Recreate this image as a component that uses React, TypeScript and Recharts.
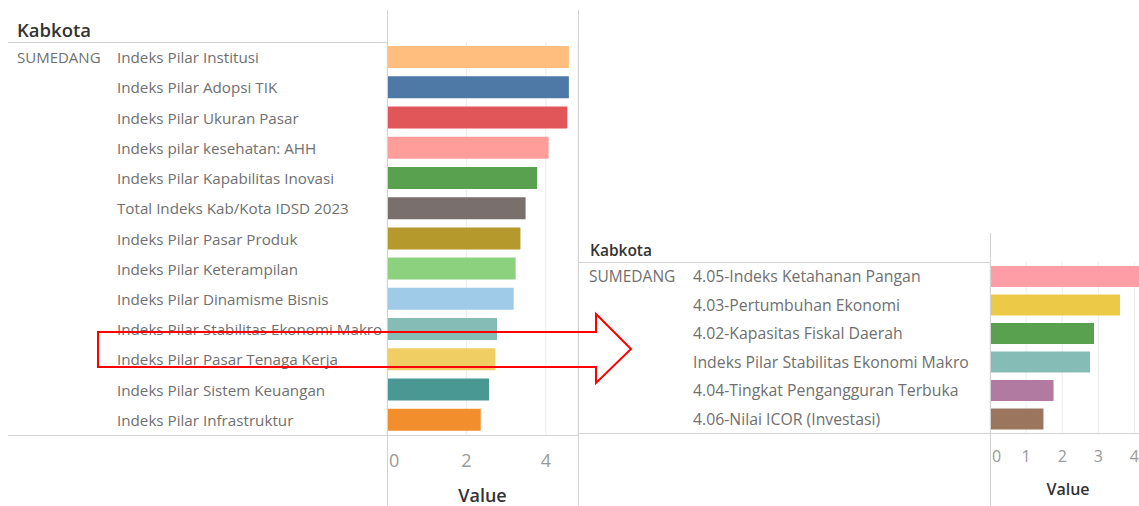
import React from 'react';
import { BarChart, Bar, XAxis, YAxis, CartesianGrid, Cell } from 'recharts';

const FONT = '"Open Sans", "Noto Sans", sans-serif';

const leftCategories = [
  'Indeks Pilar Institusi',
  'Indeks Pilar Adopsi TIK',
  'Indeks Pilar Ukuran Pasar',
  'Indeks pilar kesehatan: AHH',
  'Indeks Pilar Kapabilitas Inovasi',
  'Total Indeks Kab/Kota IDSD 2023',
  'Indeks Pilar Pasar Produk',
  'Indeks Pilar Keterampilan',
  'Indeks Pilar Dinamisme Bisnis',
  'Indeks Pilar Stabilitas Ekonomi Makro',
  'Indeks Pilar Pasar Tenaga Kerja',
  'Indeks Pilar Sistem Keuangan',
  'Indeks Pilar Infrastruktur',
];
const leftValues = [4.58, 4.58, 4.54, 4.07, 3.78, 3.49, 3.36, 3.24, 3.19, 2.77, 2.73, 2.57, 2.36];
const leftColors = [
  '#FFBE7D', '#4E79A7', '#E15759', '#FF9D9A', '#59A14F', '#79706E', '#B6992D',
  '#8CD17D', '#A0CBE8', '#86BCB6', '#F1CE63', '#499894', '#F28E2B',
];
const leftTicks = [0, 2, 4];

const rightCategories = [
  '4.05-Indeks Ketahanan Pangan',
  '4.03-Pertumbuhan Ekonomi',
  '4.02-Kapasitas Fiskal Daerah',
  'Indeks Pilar Stabilitas Ekonomi Makro',
  '4.04-Tingkat Pengangguran Terbuka',
  '4.06-Nilai ICOR (Investasi)',
];
const rightValues = [4.2, 3.6, 2.88, 2.77, 1.76, 1.48];
const rightColors = ['#FF9DA7', '#EDC948', '#59A14F', '#86BCB6', '#B07AA1', '#9C755F'];
const rightTicks = [0, 1, 2, 3, 4];

const rowHeader = 'Kabkota';
const rowValue = 'SUMEDANG';
const axisTitle = 'Value';

const leftData = leftCategories.map((name, i) => ({ name, value: leftValues[i], color: leftColors[i] }));
const rightData = rightCategories.map((name, i) => ({ name, value: rightValues[i], color: rightColors[i] }));

const LINE = '#d3d3d3';
const LABEL = '#707070';

const makeCatTick = (labelX: number, size: number) => (props: any) => {
  const { y, payload } = props;
  return (
    <text x={labelX} y={y} textAnchor="start" dominantBaseline="central" fontFamily={FONT} fontSize={size} fill={LABEL}>
      {payload.value}
    </text>
  );
};

const makeNumTick = (labelY: number, size: number, startX: number) => (props: any) => {
  const { x, payload } = props;
  const isFirst = payload.value === 0;
  return (
    <text
      x={isFirst ? startX + 2 : x}
      y={labelY}
      textAnchor={isFirst ? 'start' : 'middle'}
      dominantBaseline="central"
      fontFamily={FONT}
      fontSize={size}
      fill="#9a9a9a"
    >
      {payload.value}
    </text>
  );
};

const makeTitle = (titleY: number, size: number) => (props: any) => {
  const vb = props.viewBox;
  return (
    <text x={vb.x + vb.width / 2} y={titleY} textAnchor="middle" dominantBaseline="central" fontFamily={FONT} fontSize={size} fontWeight={600} fill="#333">
      {axisTitle}
    </text>
  );
};

export default function App() {
  return (
    <div style={{ position: 'absolute', left: 0, top: 0, width: 1139, height: 506, overflow: 'hidden', background: '#fff' }}>
      <div style={{ position: 'absolute', left: 0, top: 0 }}>
        <BarChart width={580} height={506} layout="vertical" data={leftData} margin={{ top: 42, right: 2, bottom: 0, left: 0 }} barSize={22}>
          <CartesianGrid horizontal={false} stroke="#ececec" />
          <XAxis
            type="number"
            domain={[0, 4.81]}
            ticks={leftTicks}
            height={71}
            axisLine={false}
            tickLine={false}
            tick={makeNumTick(460, 18, 387)}
            label={{ value: axisTitle, content: makeTitle(495, 18) }}
          />
          <YAxis type="category" dataKey="name" width={387} axisLine={false} tickLine={false} tick={makeCatTick(117, 15.2)} interval={0} />
          <Bar dataKey="value" isAnimationActive={false}>
            {leftData.map((d, i) => (
              <Cell key={i} fill={d.color} />
            ))}
          </Bar>
        </BarChart>
      </div>
      <div style={{ position: 'absolute', left: 580, top: 0 }}>
        <BarChart width={566} height={506} layout="vertical" data={rightData} margin={{ top: 262, right: 0, bottom: 0, left: 0 }} barSize={21}>
          <CartesianGrid horizontal={false} stroke="#ececec" />
          <XAxis
            type="number"
            domain={[0, 4.32]}
            ticks={rightTicks}
            height={73}
            axisLine={false}
            tickLine={false}
            tick={makeNumTick(456, 16, 410)}
            label={{ value: axisTitle, content: makeTitle(489, 16) }}
          />
          <YAxis type="category" dataKey="name" width={410} axisLine={false} tickLine={false} tick={makeCatTick(113, 15.8)} interval={0} />
          <Bar dataKey="value" isAnimationActive={false}>
            {rightData.map((d, i) => (
              <Cell key={i} fill={d.color} />
            ))}
          </Bar>
        </BarChart>
      </div>
      <svg width={1139} height={506} style={{ position: 'absolute', left: 0, top: 0, pointerEvents: 'none' }}>
        <g stroke={LINE} strokeWidth={1}>
          <line x1={8} y1={42.5} x2={387} y2={42.5} />
          <line x1={8} y1={435.5} x2={579} y2={435.5} />
          <line x1={387.5} y1={10} x2={387.5} y2={506} />
          <line x1={578.5} y1={10} x2={578.5} y2={506} />
          <line x1={579} y1={262.5} x2={990} y2={262.5} />
          <line x1={579} y1={433.5} x2={1139} y2={433.5} />
          <line x1={990.5} y1={233} x2={990.5} y2={506} />
        </g>
        <text x={17} y={29} dominantBaseline="central" fontFamily={FONT} fontSize={18.5} fontWeight={600} fill="#333">{rowHeader}</text>
        <text x={17} y={57} dominantBaseline="central" fontFamily={FONT} fontSize={15} fill={LABEL}>{rowValue}</text>
        <text x={590} y={250} dominantBaseline="central" fontFamily={FONT} fontSize={15.5} fontWeight={600} fill="#333">{rowHeader}</text>
        <text x={589} y={276} dominantBaseline="central" fontFamily={FONT} fontSize={15.5} fill={LABEL}>{rowValue}</text>
        <polygon
          points="98,332 596,332 596,314 631,349 596,383 596,367 98,367"
          fill="none"
          stroke="#ff0000"
          strokeWidth={2}
        />
      </svg>
    </div>
  );
}
